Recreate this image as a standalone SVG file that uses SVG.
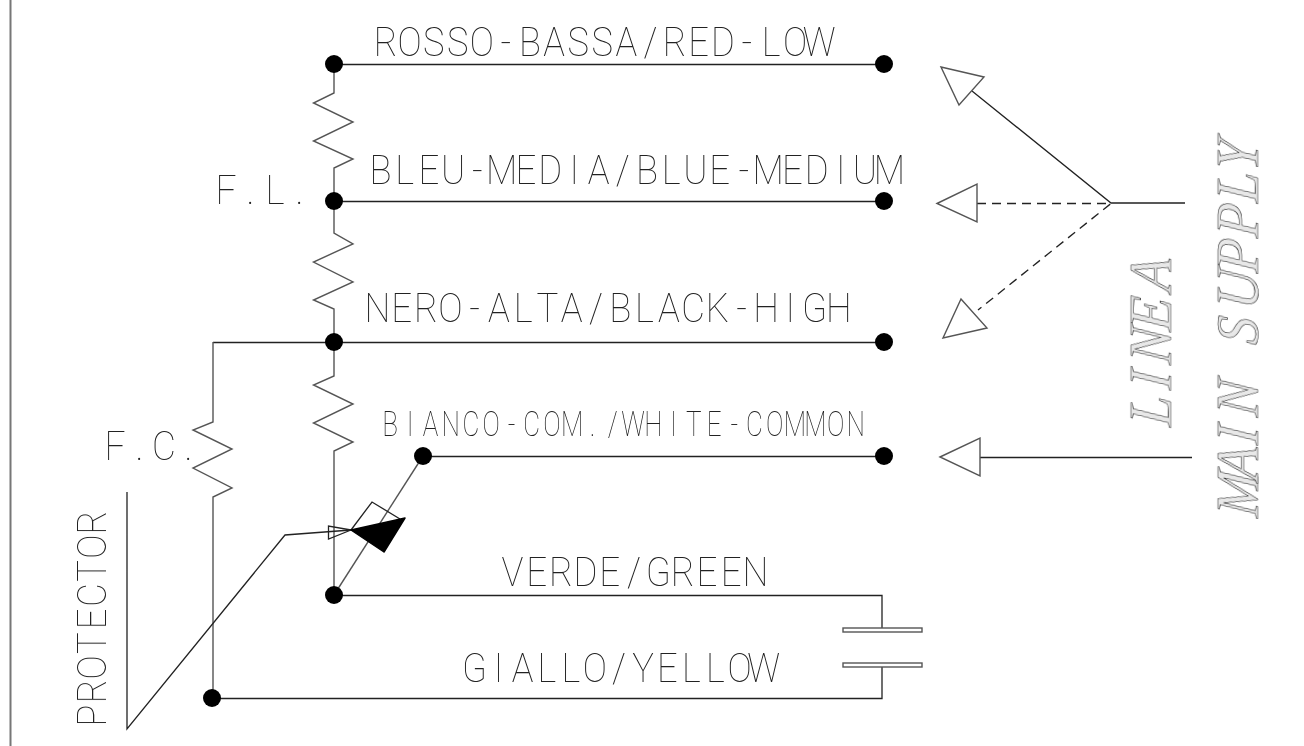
<svg xmlns="http://www.w3.org/2000/svg" width="1304" height="746" viewBox="0 0 1304 746">
<style>
.w{fill:none;stroke:#222;stroke-width:1.3}
.g{fill:none;stroke:#555;stroke-width:1.4}
.d{stroke-dasharray:9 6}
.dot{fill:#000}
.t{font-family:"Roboto","Liberation Sans",sans-serif;font-weight:100;font-size:41px;fill:#222;text-anchor:middle}
.s{font-family:"Liberation Serif",serif;font-style:italic;font-size:60px;fill:#e8e8e8;stroke:#222;stroke-width:.6}
</style>
<defs><filter id="n" x="0" y="0" width="1" height="1" filterUnits="objectBoundingBox" color-interpolation-filters="sRGB"><feOffset dx="0" dy="0"/></filter></defs>
<rect width="1304" height="746" fill="#fff"/>
<g id="connectors">
<path style="fill:none;stroke:#777;stroke-width:2" d="M10.500 0V746"/>
<path class="w" d="M334 64.500H883M334 201.500H883M213 342.500H883M423 456.500H883M334 595.500H882V628M882 667V698.500H212"/>
<path class="g" d="M213 342V422L193 430L232 449L193 468L232 488L213 497V698"/>
<path class="g" d="M334 64V93L313.500 103L353 122L313.500 141L353 159L334 168V233L353 244L313.500 262L353 282L313.500 300L334 309V376L313.500 385L353 404L313.500 423L353 442L334 451V595"/>
<path class="g" d="M334 595L423 456"/>
<path class="w" d="M127 492V729L285 535L351 530"/>
<path class="w" d="M972 91L1111 203H1185"/>
<path class="w d" d="M977 203.500H1111L978 310"/>
<path class="w" d="M980 457.500H1192"/>
</g>
<g id="dots">
<circle class="dot" cx="334" cy="64" r="9"/><circle class="dot" cx="884" cy="64" r="9"/>
<circle class="dot" cx="334" cy="201" r="9"/><circle class="dot" cx="884" cy="201" r="9"/>
<circle class="dot" cx="334" cy="342" r="9"/><circle class="dot" cx="884" cy="342" r="9"/>
<circle class="dot" cx="423" cy="456" r="9"/><circle class="dot" cx="884" cy="456" r="9"/>
<circle class="dot" cx="334" cy="595" r="9"/><circle class="dot" cx="212" cy="698" r="9"/>
</g>
<g id="protector">
<path class="w" d="M351 530L328.500 526V539L351 530M351 530L372 502L400 519"/>
<path d="M351 530L405 518L384 552Z" fill="#000" stroke="#000" stroke-linejoin="round" stroke-width="1.500"/>
</g>
<g id="capacitor">
<rect class="g" x="843" y="628" width="79" height="4"/>
<rect class="g" x="843" y="663" width="79" height="4"/>
</g>
<g id="arrowheads">
<path class="g" d="M941 67L984 77L959 105Z"/>
<path class="g" d="M937 203.500L977 184V222Z"/>
<path class="g" d="M961 299L987 328L943 338Z"/>
<path class="g" d="M940 457L980 438V476Z"/>
</g>
<g id="labels" filter="url(#n)">
<text class="t" transform="translate(385.500 56) scale(.885 1)" x="0 27.200 54.400 81.700 108.900 136.100 163.300 190.600 217.800 245 272.200 299.400 326.700 353.900 381.100 408.300 435.600 462.800 490">ROSSO-BASSA/RED-LOW</text>
<text class="t" transform="translate(380.500 184) scale(.89 1)" x="0 27.200 54.400 81.700 108.900 136.100 163.300 190.600 217.800 245 272.200 299.400 326.700 353.900 381.100 408.300 435.600 462.800 490 517.200 544.400 571.700">BLEU-MEDIA/BLUE-MEDIUM</text>
<text class="t" transform="translate(377.500 322) scale(.892 1)" x="0 27.200 54.400 81.700 108.900 136.100 163.300 190.600 217.800 245 272.200 299.400 326.700 353.900 381.100 408.300 435.600 462.800 490 517.200">NERO-ALTA/BLACK-HIGH</text>
<text class="t" transform="translate(390 436) scale(.744 1)" style="font-size:35px" x="0 27.200 54.400 81.700 108.900 136.100 163.300 190.600 217.800 245 272.200 299.400 326.700 353.900 381.100 408.300 435.600 462.800 490 517.200 544.400 571.700 598.900 626.100">BIANCO-COM./WHITE-COMMON</text>
<text class="t" transform="translate(512.500 586) scale(.893 1)" x="0 27.200 54.400 81.700 108.900 136.100 163.300 190.600 217.800 245 272.200">VERDE/GREEN</text>
<text class="t" transform="translate(474.500 682) scale(.885 1)" x="0 27.200 54.400 81.700 108.900 136.100 163.300 190.600 217.800 245 272.200 299.400 326.700">GIALLO/YELLOW</text>
<text class="t" transform="translate(226 204) scale(.9 1)" x="0 27.200 54.400 81.700">F.L.</text>
<text class="t" transform="translate(115 460) scale(.9 1)" x="0 27.200 54.400 81.700">F.C.</text>
<text class="t" transform="translate(106 715.500) rotate(-90) scale(.886 1)" x="0 27.200 54.400 81.700 108.900 136.100 163.300 190.600 217.800">PROTECTOR</text>
<text class="s" transform="translate(1171 428) rotate(-90) scale(.9 1) skewX(-6)" x="1 42 70 107 151">LINEA</text>
<text class="s" transform="translate(1258 520) rotate(-90) scale(.9 1) skewX(-6)" x="2.200 44 83 114 150 194 233 274 313 352 387">MAIN SUPPLY</text>
</g>
</svg>
